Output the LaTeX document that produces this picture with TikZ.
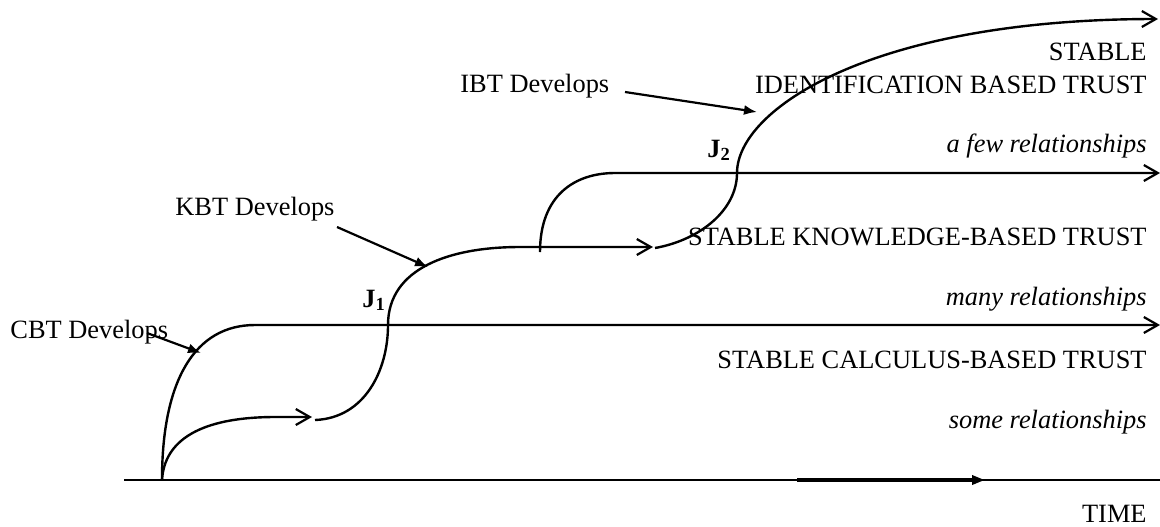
\documentclass[tikz,border=0pt]{standalone}
\usepackage{fontspec}
\setmainfont{Liberation Serif}
\usetikzlibrary{arrows.meta}
\tikzset{
  trend/.style={line width=1.2pt},
  openarr/.style={-{Straight Barb[length=7pt,width=8pt,line width=1.1pt]}},
  devarr/.style={line width=1.1pt,-{Latex[length=6.5pt,width=5pt]}},
  lbl/.style={inner sep=0pt,font=\fontsize{13.2}{15}\selectfont},
}
\begin{document}
\begin{tikzpicture}[x=0.5pt,y=-0.5pt]
\useasboundingbox (0,0) rectangle (1160,526);
% time axis
\draw[line width=1pt] (124,480) -- (1160,480);
\draw[line width=2.4pt,-{Triangle[length=6.5pt,width=4.5pt]}] (797,480) -- (985,480);
\node[lbl,anchor=base east] (time) at (1147,522) {TIME};
% calculus-based trust
\draw[trend,openarr] (162,480) .. controls (162,380) and (195,325) .. (255,325) -- (1160,325);
\draw[trend,openarr] (162,480) .. controls (165,430) and (220,417) .. (275,417) -- (312,417);
% knowledge-based trust
\draw[trend,openarr] (315,420) .. controls (365,418) and (388,370) .. (388,325)
  .. controls (388,268) and (450,247) .. (520,247) -- (653,247);
\draw[trend,openarr] (540,252) .. controls (540,195) and (575,173) .. (615,173) -- (1160,173);
% identification-based trust
\draw[trend,openarr] (655,248) .. controls (700,240) and (737,210) .. (737,173)
  .. controls (737,110) and (870,19) .. (1158,19);
% levels
\node[lbl,anchor=base east] (stbl) at (1147,60) {STABLE};
\node[lbl,anchor=base east] (ibt) at (1147,93) {IDENTIFICATION BASED TRUST};
\node[lbl,anchor=base east] (few) at (1147,152) {\itshape a few relationships};
\node[lbl,anchor=base east] (kbt) at (1147,245) {STABLE KNOWLEDGE-BASED TRUST};
\node[lbl,anchor=base east] (many) at (1147,305) {\itshape many relationships};
\node[lbl,anchor=base east] (cbt) at (1147,368) {STABLE CALCULUS-BASED TRUST};
\node[lbl,anchor=base east] (some) at (1147,428) {\itshape some relationships};
% jumps
\node[lbl,anchor=base west] (j1) at (362,307) {\textbf{J\textsubscript{1}}};
\node[lbl,anchor=base west] (j2) at (707,157) {\textbf{J\textsubscript{2}}};
% develops
\node[lbl,anchor=base west] (cbtdev) at (10,338) {CBT Develops};
\node[lbl,anchor=base west] (kbtdev) at (175,215) {KBT Develops};
\node[lbl,anchor=base west] (ibtdev) at (460,92) {IBT Develops};
\coordinate (cbttip) at (201,353);
\coordinate (kbttip) at (428,267);
\coordinate (ibttip) at (757,112);
\draw[devarr] (147,333) -- (cbttip);
\draw[devarr] (337,227) -- (kbttip);
\draw[devarr] (625,92) -- (ibttip);
\end{tikzpicture}
\end{document}
